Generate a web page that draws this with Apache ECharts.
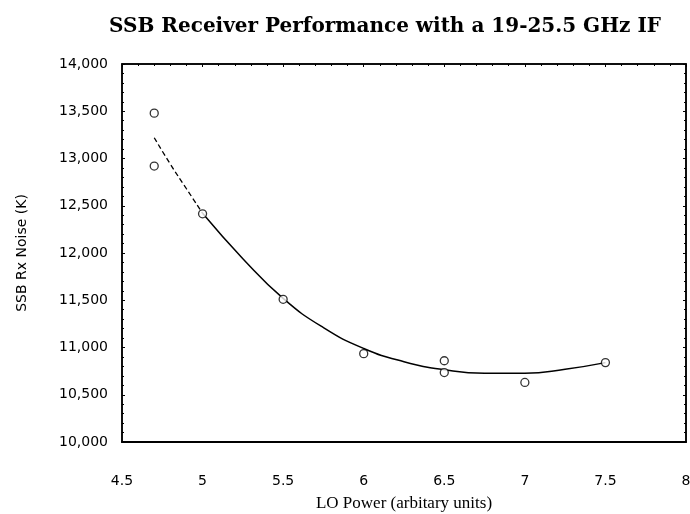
<!DOCTYPE html>
<html>
<head>
<meta charset="utf-8">
<script src="https://cdn.jsdelivr.net/npm/echarts@6/dist/echarts.min.js"></script>
<style>html,body{margin:0;padding:0;background:#fff;}#c{width:690px;height:514px;}</style>
</head>
<body>
<div id="c"></div>
<script>
var titleText = 'SSB Receiver Performance with a 19-25.5 GHz IF';
var xName = 'LO Power (arbitary units)';
var yName = 'SSB Rx Noise (K)';
var measured = [
  [4.7, 13480], [4.7, 12920], [5.0, 12415], [5.5, 11510], [6.0, 10935],
  [6.5, 10860], [6.5, 10735], [7.0, 10630], [7.5, 10840]
];
var fitDashed = [[4.7, 13220], [4.8, 12940], [4.9, 12680], [5.0, 12420]];
var fitSolid = [
  [5.0, 12420], [5.25, 11940], [5.5, 11520], [5.75, 11210], [6.0, 10990],
  [6.25, 10850], [6.5, 10765], [6.75, 10728], [7.0, 10728], [7.25, 10770], [7.5, 10840]
];
var xMin = 4.5, xMax = 8, xStep = 0.5;
var yMin = 10000, yMax = 14000, yStep = 500;

var chart = echarts.init(document.getElementById('c'));
var sans = 'DejaVu Sans';
var serif = 'Liberation Serif';
chart.setOption({
  backgroundColor: '#fff',
  animation: false,
  title: {
    text: titleText, left: 380, top: 12, textAlign: 'center',
    textStyle: { fontFamily: 'DejaVu Serif', fontWeight: 'bold', fontSize: 20, color: '#000' }
  },
  grid: { left: 122, right: 4, top: 64, bottom: 72, outerBoundsMode: 'none', containLabel: false,
    show: true, borderColor: '#000', borderWidth: 1.5 },
  xAxis: [{
    type: 'value', min: xMin, max: xMax, interval: xStep,
    name: xName, nameLocation: 'middle', nameGap: 53,
    nameTextStyle: { fontFamily: serif, fontSize: 17, color: '#000' },
    axisLine: { show: true, lineStyle: { color: '#000', width: 2 } },
    axisTick: { show: false },
    axisLabel: { margin: 32, fontFamily: sans, fontSize: 14, color: '#000' },
    splitLine: { show: false }
  }, {
    type: 'value', min: xMin, max: xMax, interval: xStep, position: 'top',
    axisLine: { show: true, lineStyle: { color: '#000', width: 1.5 } },
    axisTick: { show: true, inside: true, length: 3, lineStyle: { color: '#000' } },
    minorTick: { show: true, splitNumber: 5, length: 2, lineStyle: { color: '#000' } },
    axisLabel: { show: false }, splitLine: { show: false }
  }],
  yAxis: [{
    type: 'value', min: yMin, max: yMax, interval: yStep,
    name: yName, nameLocation: 'middle', nameGap: 93, nameRotate: 90,
    nameTextStyle: { fontFamily: sans, fontSize: 14, color: '#000' },
    axisLine: { show: true, lineStyle: { color: '#000', width: 1.5 } },
    axisTick: { show: true, inside: true, length: 3, lineStyle: { color: '#000' } },
    minorTick: { show: true, splitNumber: 5, length: 2, lineStyle: { color: '#000' } },
    axisLabel: { margin: 14, fontFamily: sans, fontSize: 14, color: '#000',
      formatter: function (v) { return v.toLocaleString('en-US'); } },
    splitLine: { show: false }
  }, {
    type: 'value', min: yMin, max: yMax, interval: yStep, position: 'right',
    axisLine: { show: true, lineStyle: { color: '#000', width: 1.5 } },
    axisTick: { show: true, inside: true, length: 3, lineStyle: { color: '#000' } },
    minorTick: { show: true, splitNumber: 5, length: 2, lineStyle: { color: '#000' } },
    axisLabel: { show: false }, splitLine: { show: false }
  }],
  series: [{
    type: 'line', data: fitDashed, smooth: true, showSymbol: false,
    lineStyle: { color: '#000', width: 1.3, type: [5, 3] }, z: 2
  }, {
    type: 'line', data: fitSolid, smooth: true, showSymbol: false,
    lineStyle: { color: '#000', width: 1.5 }, z: 2
  }, {
    type: 'scatter', data: measured, symbol: 'circle', symbolSize: 8,
    itemStyle: { color: '#fff', borderColor: '#000', borderWidth: 1.3 }, z: 3
  }]
});
</script>
</body>
</html>
